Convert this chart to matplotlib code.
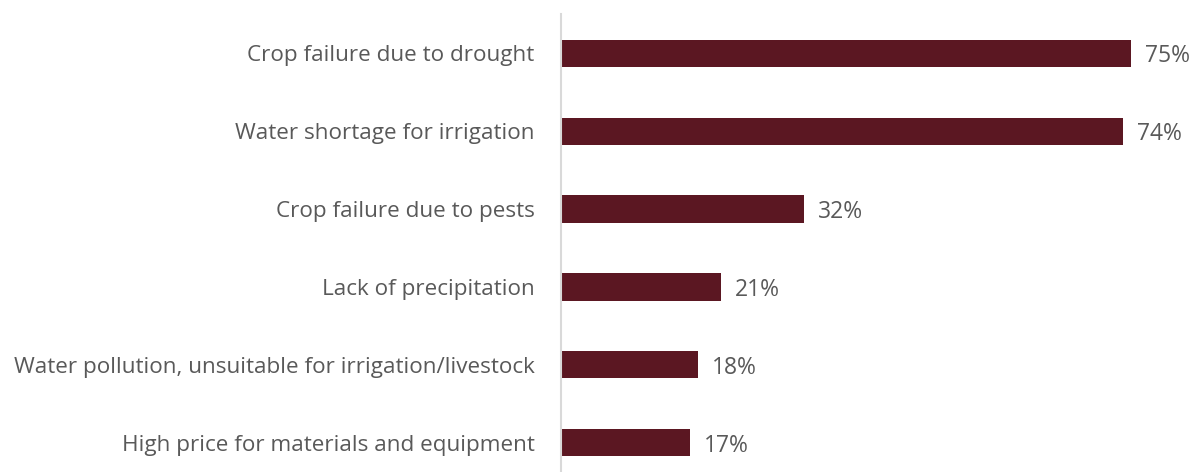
import matplotlib.pyplot as plt

categories = [
    "Crop failure due to drought",
    "Water shortage for irrigation",
    "Crop failure due to pests",
    "Lack of precipitation",
    "Water pollution, unsuitable for irrigation/livestock",
    "High price for materials and equipment",
]
shares = [75, 74, 32, 21, 18, 17]

bar_color = "#5B1722"
text_color = "#595959"

plt.rcParams["font.family"] = ["Open Sans", "DejaVu Sans"]

fig = plt.figure(figsize=(11.92, 4.72), dpi=100)
ax = fig.add_axes([561 / 1192, 1 - 481.5 / 472, 631 / 1192, 467 / 472])

pos = range(len(categories))
ax.barh(pos, shares, height=0.35, color=bar_color)
ax.set_xlim(0, 631 / 7.6)
ax.set_ylim(len(categories) - 0.5, -0.5)

ax.set_yticks(list(pos))
ax.set_yticklabels(categories, fontsize=16.2, color=text_color)
for lbl in ax.get_yticklabels():
    lbl.set_verticalalignment("center_baseline")
ax.tick_params(axis="y", length=0, pad=19)
ax.set_xticks([])

for y, v in zip(pos, shares):
    ax.annotate(f"{v}%", (v, y), xytext=(10, 0), textcoords="offset points",
                va="center_baseline", ha="left", fontsize=16.5, color=text_color)

for side in ["top", "right", "bottom"]:
    ax.spines[side].set_visible(False)
ax.spines["left"].set_color("#D9D9D9")
ax.spines["left"].set_linewidth(1.5)

fig.savefig("out.png", dpi=100)
